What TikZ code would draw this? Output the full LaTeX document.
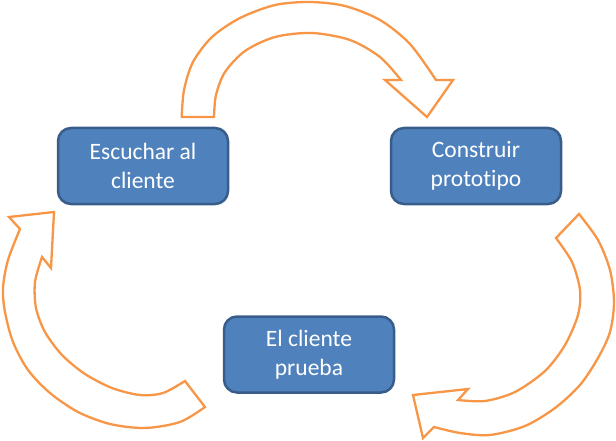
\documentclass[tikz,border=0pt]{standalone}
\usepackage{fontspec}
\setmainfont[Ligatures=NoCommon, RawFeature={-clig;-dlig}]{Carlito}
\usetikzlibrary{calc}
\definecolor{boxfill}{HTML}{4F81BD}
\definecolor{boxline}{HTML}{385D8A}
\definecolor{looporange}{HTML}{F79646}
\tikzstyle{box} = [rectangle, rounded corners=13pt, minimum width=170pt, minimum height=76pt, text centered, align=center, draw=boxline, fill=boxfill, line width=2.5pt, text=white, font=\fontsize{23.5}{29.5}\selectfont]
\tikzstyle{looparrow} = [draw=looporange, fill=white, line width=2.3pt, line join=miter]

\begin{document}
\begin{tikzpicture}[x=1pt, y=-1pt]
    \useasboundingbox (0,0) rectangle (616,441);

    % Nodes
    \node (escuchar) [box] at (143,166) {Escuchar al\\cliente};
    \node (construir) [box] at ($(escuchar)+(333,0)$) {Construir\\prototipo};
    \node (prueba) [box] at ($(escuchar)+(166,188.5)$) {El cliente\\prueba};

    % top arrow
    \draw [looparrow] plot[smooth] coordinates {(181.7,117) (184,90) (193,62) (212,37) (240,18) (275,5) (310,2) (345,6) (380,20) (410,44) (436,80)}
        -- (453,80) -- (427,117) -- (385,80)
        -- plot[smooth] coordinates {(401,80) (380,57) (350,40) (312,33) (275,37) (245,51) (225,72) (216,95) (214,117)} -- cycle;

    % right arrow
    \draw [looparrow] plot[smooth] coordinates {(579,214) (598,240) (610,270) (614,302) (610,332) (598,358) (580,385) (555,408) (525,426) (490,435) (460,433) (434,427)}
        -- (423,438) -- (413,395) -- (468,389)
        -- plot[smooth] coordinates {(458,400) (485,401) (515,392) (545,371) (565,345) (578,315) (580,290) (572,262) (556,238)} -- cycle;

    % left arrow
    \draw [looparrow] plot[smooth] coordinates {(205,407) (180,422) (145,428) (110,424) (78,412) (50,393) (28,370) (13,342) (5,312) (3,288) (8,260) (20,229)}
        -- (9,217) -- (54,212) -- (51,268)
        -- plot[smooth] coordinates {(42,257) (35,282) (36,308) (45,332) (62,355) (85,374) (112,388) (140,395) (163,393) (185,381)} -- cycle;
\end{tikzpicture}
\end{document}
